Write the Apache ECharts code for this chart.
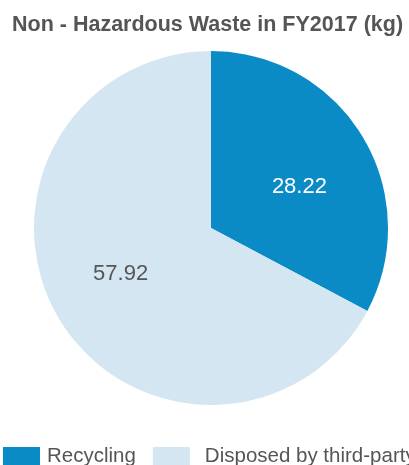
<!DOCTYPE html>
<html>
<head>
<meta charset="utf-8">
<script src="https://cdn.jsdelivr.net/npm/echarts@6/dist/echarts.min.js"></script>
<style>
  html, body { margin: 0; padding: 0; background: #fff; }
  #chart { width: 409px; height: 465px; }
</style>
</head>
<body>
<div id="chart"></div>
<script>
const categories = ["Recycling", "Disposed by third-party"];
const values = [28.22, 57.92];
const colors = ["#0b8bc6", "#d4e6f2"];
const labelColors = ["#ffffff", "#555555"];
// nudge labels a bit further out than ECharts' r/2
const labelOffsets = [[10, 6], [-12, -1]];
const legendTextPad = [2, 10];

var chartDom = document.getElementById("chart");
var myChart = echarts.init(chartDom);
var option;

option = {
  animation: false,
  title: {
    text: "Non - Hazardous Waste in FY2017 (kg)",
    left: 7,
    top: 9,
    textStyle: {
      fontFamily: "Liberation Sans",
      fontSize: 21.5,
      fontWeight: "bold",
      color: "#555555",
    },
  },
  legend: {
    left: 3,
    top: 446,
    width: 1000,
    padding: 0,
    itemWidth: 37,
    itemHeight: 19,
    itemGap: 17,
    icon: "rect",
    textStyle: {
      fontFamily: "Liberation Sans",
      fontSize: 20.5,
      color: "#555555",
    },
    data: categories.map((name, i) => ({
      name: name,
      textStyle: { padding: [0, 0, 0, legendTextPad[i]] },
    })),
  },
  series: [
    {
      type: "pie",
      center: [211, 228],
      radius: [0, 177],
      startAngle: 90,
      clockwise: true,
      label: {
        show: true,
        position: "inside",
        fontFamily: "Liberation Sans",
        fontSize: 22,
        formatter: "{c}",
      },
      labelLine: { show: false },
      emphasis: { disabled: true },
      data: categories.map((name, i) => ({
        name: name,
        value: values[i],
        itemStyle: { color: colors[i] },
        label: { color: labelColors[i], offset: labelOffsets[i] },
      })),
    },
  ],
};
option && myChart.setOption(option);
</script>
</body>
</html>
